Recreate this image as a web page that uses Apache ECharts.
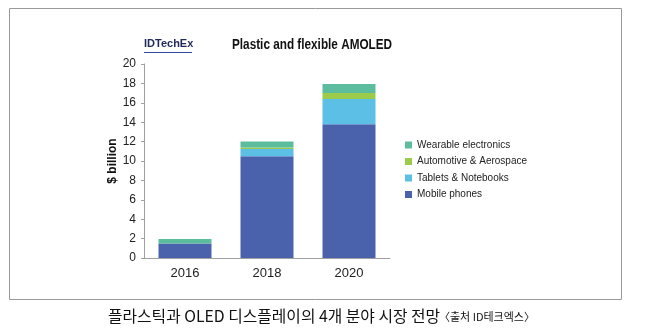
<!DOCTYPE html>
<html><head><meta charset="utf-8">
<script src="https://cdn.jsdelivr.net/npm/echarts@6/dist/echarts.min.js"></script>
<style>html,body{margin:0;padding:0;background:#fff}#c{width:645px;height:335px}</style>
</head><body><div id="c"></div>
<script>
const categories = ['2016', '2018', '2020'];
const mobilePhones = [1.5, 10.5, 13.8];
const tabletsNotebooks = [0, 0.75, 2.6];
const automotiveAerospace = [0, 0.15, 0.6];
const wearableElectronics = [0.45, 0.6, 0.95];
const yTicks = [0, 20, 2];

const font = 'Arial, "Liberation Sans", sans-serif';
const chart = echarts.init(document.getElementById('c'), null, {renderer: 'canvas'});
function s(name, data, color) {
  return {name, type: 'bar', stack: 'a', data, barWidth: 53,
    itemStyle: {color}, emphasis: {disabled: true}};
}
chart.setOption({
  animation: false,
  textStyle: {fontFamily: font},
  grid: {left: 144, right: 255, top: 64, bottom: 77, containLabel: false},
  xAxis: {type: 'category', data: categories,
    axisLine: {lineStyle: {color: '#a0a0a0', width: 1}},
    axisTick: {show: false},
    axisLabel: {color: '#222', fontSize: 13, margin: 9, fontFamily: font}},
  yAxis: {type: 'value', min: yTicks[0], max: yTicks[1], interval: yTicks[2],
    name: '$ billion', nameLocation: 'middle', nameGap: 23, nameRotate: 90,
    nameTextStyle: {color: '#111', fontSize: 12, fontWeight: 'bold', fontFamily: font},
    axisLine: {show: true, lineStyle: {color: '#a0a0a0', width: 1}},
    axisTick: {show: true, inside: false, length: 3, lineStyle: {color: '#a0a0a0'}},
    splitLine: {show: false},
    axisLabel: {color: '#222', fontSize: 12, margin: 8, fontFamily: font}},
  legend: {orient: 'vertical', left: 400, top: 135, itemWidth: 7, itemHeight: 7, itemGap: 6.5,
    icon: 'rect', selectedMode: false,
    textStyle: {color: '#222', fontSize: 10, fontFamily: font},
    data: ['Wearable electronics', 'Automotive & Aerospace', 'Tablets & Notebooks', 'Mobile phones']},
  series: [
    s('Mobile phones', mobilePhones, '#4a62ac'),
    s('Tablets & Notebooks', tabletsNotebooks, '#5cc0e6'),
    s('Automotive & Aerospace', automotiveAerospace, '#9ccb4c'),
    s('Wearable electronics', wearableElectronics, '#5cbd9e')
  ],
  graphic: [
    {type: 'rect', shape: {x: 9.5, y: 8.5, width: 612, height: 291}, style: {fill: 'none', stroke: '#999', lineWidth: 1}, silent: true},
    {type: 'text', x: 144, y: 38, style: {text: 'IDTechEx', fill: '#1f2a5a', font: 'bold 11px ' + font}},
    {type: 'line', shape: {x1: 144, y1: 52.5, x2: 192, y2: 52.5}, style: {stroke: '#3a4aa0', lineWidth: 1}},
    {type: 'text', x: 232, y: 38, scaleX: 0.84, style: {text: 'Plastic and flexible AMOLED', fill: '#111', font: 'bold 14px ' + font}},
    {type: 'text', x: 108, y: 308, style: {text: '플라스틱과 OLED 디스플레이의 4개 분야 시장 전망', fill: '#111', font: '15.8px "Noto Sans CJK KR", sans-serif'}},
    {type: 'text', x: 439, y: 311, style: {text: '〈출처 ID테크엑스〉', fill: '#111', font: '11px "Noto Sans CJK KR", sans-serif'}}
  ]
});
</script></body></html>
